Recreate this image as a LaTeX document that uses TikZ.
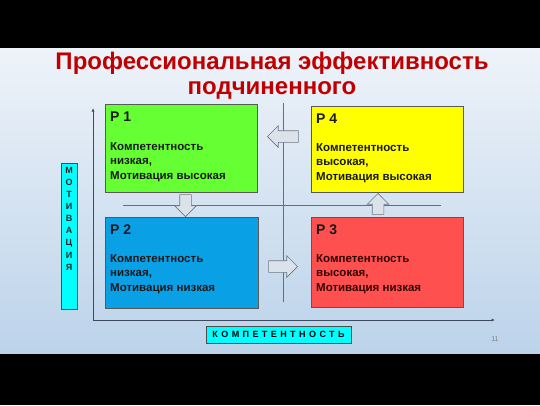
\documentclass[tikz,border=0pt]{standalone}
\usepackage{fontspec}
\setmainfont{Liberation Sans}
\usetikzlibrary{calc,positioning,shapes.arrows,arrows.meta}

\definecolor{titlered}{HTML}{C00000}
\definecolor{pgreen}{HTML}{66FF33}
\definecolor{pyellow}{HTML}{FFFF00}
\definecolor{pblue}{HTML}{0AA0E6}
\definecolor{pred}{HTML}{FF5050}
\definecolor{pcyan}{HTML}{00FFFF}
\definecolor{bgtop}{HTML}{EEF3F9}
\definecolor{bgbot}{HTML}{BCD3EA}
\definecolor{axiscol}{HTML}{3C4C60}
\definecolor{crosscol}{HTML}{5E7088}
\definecolor{movefill}{HTML}{DCE2EA}
\definecolor{movedraw}{HTML}{6E7884}

\begin{document}
\begin{tikzpicture}[x=1pt,y=-1pt,
    quad/.style={draw=black!65,line width=0.6pt,minimum width=152pt,
      anchor=north west,inner sep=0pt},
    head/.style={anchor=base west,inner sep=0pt,text=black!90,
      font=\bfseries\fontsize{14}{16}\selectfont},
    body/.style={anchor=north west,inner sep=0pt,align=left,text=black!90,
      font=\bfseries\fontsize{11.5}{14.5}\selectfont},
    tag/.style={draw=black!70,fill=pcyan,line width=0.6pt,inner sep=0pt},
    axis/.style={draw=axiscol,line width=0.8pt,-{Latex[length=3.5pt,width=3pt]}},
    cross/.style={draw=crosscol,line width=0.6pt},
    move/.style={single arrow,draw=movedraw,fill=movefill,line width=0.6pt,
      inner xsep=0pt,inner ysep=5.5pt,text height=0pt,text depth=0pt,
      single arrow head extend=5pt,single arrow head indent=0pt,anchor=tip}]

    % Frame
    \useasboundingbox (0,0) rectangle (540,405);
    \fill[black] (0,0) rectangle (540,405);
    \shade[top color=bgtop,bottom color=bgbot] (0,48) rectangle (540,353);

    % Title
    \node[align=center,text=titlered,font=\bfseries\fontsize{24}{24.5}\selectfont]
      (title) at (272,75.5) {Профессиональная эффективность\\подчиненного};

    % Origin and axis ends
    \coordinate (O) at (93,320);
    \coordinate (Y) at (93,108);
    \coordinate (X) at (495,320);

    % Cross lines
    \coordinate (V1) at (283,103);
    \coordinate (V2) at (283,302);
    \coordinate (H1) at (123,205);
    \coordinate (H2) at (441,205);

    \draw[cross] (V1) -- (V2);
    \draw[cross] (H1) -- (H2);

    % Axes
    \draw[axis] (O) -- (Y);
    \draw[axis] (O) -- (X);

    % Quadrants
    \node[quad,fill=pgreen,minimum height=88pt] (p1) at (105,104) {};
    \node[quad,fill=pyellow,minimum height=86pt] (p4) at (311,106) {};
    \node[quad,fill=pblue,minimum height=91pt,minimum width=153pt] (p2) at (105,217) {};
    \node[quad,fill=pred,minimum height=90pt] (p3) at (311,217) {};

    % Texts
    \node[head] (h1) at ($(p1.north west)+(5,17)$) {Р 1};
    \node[body] (t1) at ($(p1.north west)+(5,38)$)
      {Компетентность\\низкая,\\Мотивация высокая};

    \node[head] (h4) at ($(p4.north west)+(5,17)$) {Р 4};
    \node[body] (t4) at ($(p4.north west)+(5,37)$)
      {Компетентность\\высокая,\\Мотивация высокая};

    \node[head] (h2) at ($(p2.north west)+(5,17)$) {Р 2};
    \node[body] (t2) at ($(p2.north west)+(5,37)$)
      {Компетентность\\низкая,\\Мотивация низкая};

    \node[head] (h3) at ($(p3.north west)+(5,17)$) {Р 3};
    \node[body,text=black!80!red] (t3) at ($(p3.north west)+(5,37)$)
      {Компетентность\\высокая,\\Мотивация низкая};

    % Moves between quadrants (placed by their tips)
    \node[move,rotate=180,minimum height=31pt] (m41) at (267,136.5) {};
    \node[move,minimum height=29pt] (m23) at (298,266.5) {};
    \node[move,rotate=-90,minimum height=22pt] (m12) at (185.5,217) {};
    \node[move,rotate=90,minimum height=21pt] (m34) at (378,193) {};

    % Axis labels
    \node[tag,minimum width=16pt,minimum height=146pt,anchor=north] (mot) at (69,163) {};
    \node[anchor=north,inner sep=0pt,align=center,text=black!85,
      font=\bfseries\fontsize{9}{12.1}\selectfont] (motlbl) at ($(mot.north)+(0,4)$)
      {М\\О\\Т\\И\\В\\А\\Ц\\И\\Я};

    \node[tag,minimum width=145pt,minimum height=17pt,
      font=\bfseries\fontsize{9}{10}\selectfont\addfontfeatures{LetterSpace=38}]
      (comp) at (278.5,334.5) {КОМПЕТЕНТНОСТЬ};

    % Page number
    \node[text=gray,font=\fontsize{7}{8}\selectfont] (num) at (495,339) {11};
  \end{tikzpicture}
\end{document}
